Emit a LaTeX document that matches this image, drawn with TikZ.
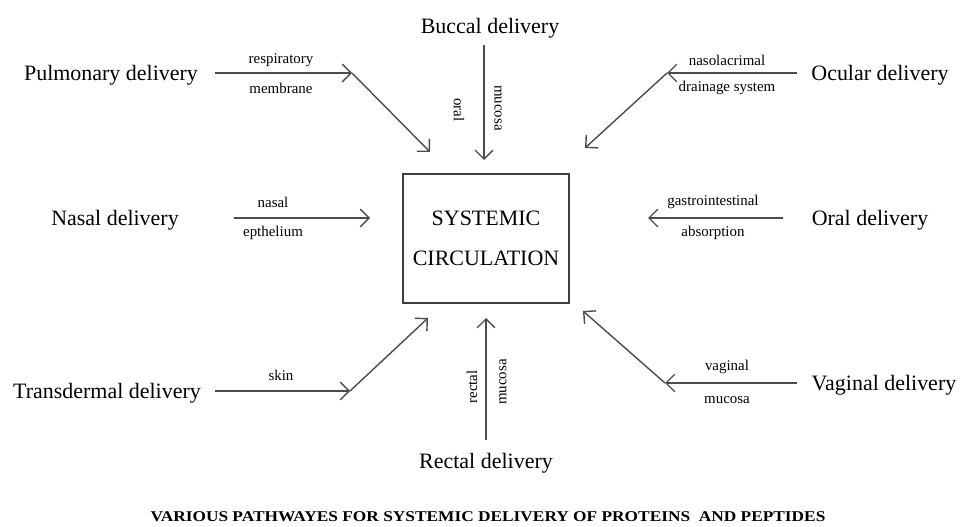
\documentclass[tikz,border=0pt]{standalone}
\usepackage{fontspec}
\setmainfont{Liberation Serif}
\usetikzlibrary{arrows.meta,positioning}

\begin{document}
\begin{tikzpicture}[x=0.02cm,y=-0.02cm,
	route/.style={line width=0.8pt,draw=black!70,-{Straight Barb[length=5pt,width=10pt]}},
	site/.style={font=\fontsize{12.5}{14}\selectfont,inner sep=0pt},
	via/.style={font=\fontsize{8.5}{10}\selectfont,inner sep=0pt}]
	\useasboundingbox (0,0) rectangle (964,527);
	\node[draw=black!75,line width=0.7pt,minimum width=3.32cm,minimum height=2.58cm,align=center,
		font=\fontsize{12.5}{22.7}\selectfont] (sys) at (486,238.5) {SYSTEMIC\\CIRCULATION};
	\node[site] (buccal) at (490,28) {Buccal delivery};
	\node[site] (pulm) at (111,75) {Pulmonary delivery};
	\node[site] (ocular) at (880,75) {Ocular delivery};
	\node[site] (nasal) at (115,220) {Nasal delivery};
	\node[site] (oral) at (870,220) {Oral delivery};
	\node[site] (trans) at (107,393) {Transdermal delivery};
	\node[site] (rectal) at (486,463) {Rectal delivery};
	\node[site] (vaginal) at (884,385) {Vaginal delivery};
	\coordinate (b1) at (484,45);
	\coordinate (b2) at (484,160);
	\coordinate (p1) at (215,73);
	\coordinate (p2) at (352,73);
	\coordinate (p3) at (430,152);
	\coordinate (o1) at (797,73);
	\coordinate (o2) at (667,73);
	\coordinate (o3) at (585,148);
	\coordinate (n1) at (234,218);
	\coordinate (n2) at (370,218);
	\coordinate (g1) at (783,218);
	\coordinate (g2) at (648,218);
	\coordinate (t1) at (215,391);
	\coordinate (t2) at (350,391);
	\coordinate (t3) at (428,318);
	\coordinate (r1) at (486,440);
	\coordinate (r2) at (486,318);
	\coordinate (v1) at (797,383);
	\coordinate (v2) at (665,383);
	\coordinate (v3) at (583,311);
	\draw[route] (b1) -- (b2);
	\draw[route] (p1) -- (p2);
	\draw[route] (p2) -- (p3);
	\draw[route] (o1) -- (o2);
	\draw[route] (o2) -- (o3);
	\draw[route] (n1) -- (n2);
	\draw[route] (g1) -- (g2);
	\draw[route] (t1) -- (t2);
	\draw[route] (t2) -- (t3);
	\draw[route] (r1) -- (r2);
	\draw[route] (v1) -- (v2);
	\draw[route] (v2) -- (v3);
	\node[via] (resp) at (281,60) {respiratory};
	\node[via] (memb) at (281,88) {membrane};
	\node[via] (naso) at (727,60) {nasolacrimal};
	\node[via] (drain) at (727,88) {drainage system};
	\node[via,rotate=-90] (bor) at (459,110) {oral};
	\node[via,rotate=-90] (bmuc) at (498,108) {mucosa};
	\node[via] (nas) at (273,202) {nasal};
	\node[via] (epth) at (273,233) {epthelium};
	\node[via] (gastro) at (713,202) {gastrointestinal};
	\node[via] (absorp) at (713,233) {absorption};
	\node[via] (skin) at (281,375) {skin};
	\node[via,rotate=90] (rrec) at (472,387) {rectal};
	\node[via,rotate=90] (rmuc) at (503,382) {mucosa};
	\node[via] (vag) at (727,367) {vaginal};
	\node[via] (vmuc) at (727,400) {mucosa};
	\node[font=\fontsize{8.5}{10}\selectfont\bfseries,inner sep=0pt,xscale=1.16] (title) at (488,517)
		{VARIOUS PATHWAYES FOR SYSTEMIC DELIVERY OF PROTEINS\ \ AND PEPTIDES};
\end{tikzpicture}
\end{document}
